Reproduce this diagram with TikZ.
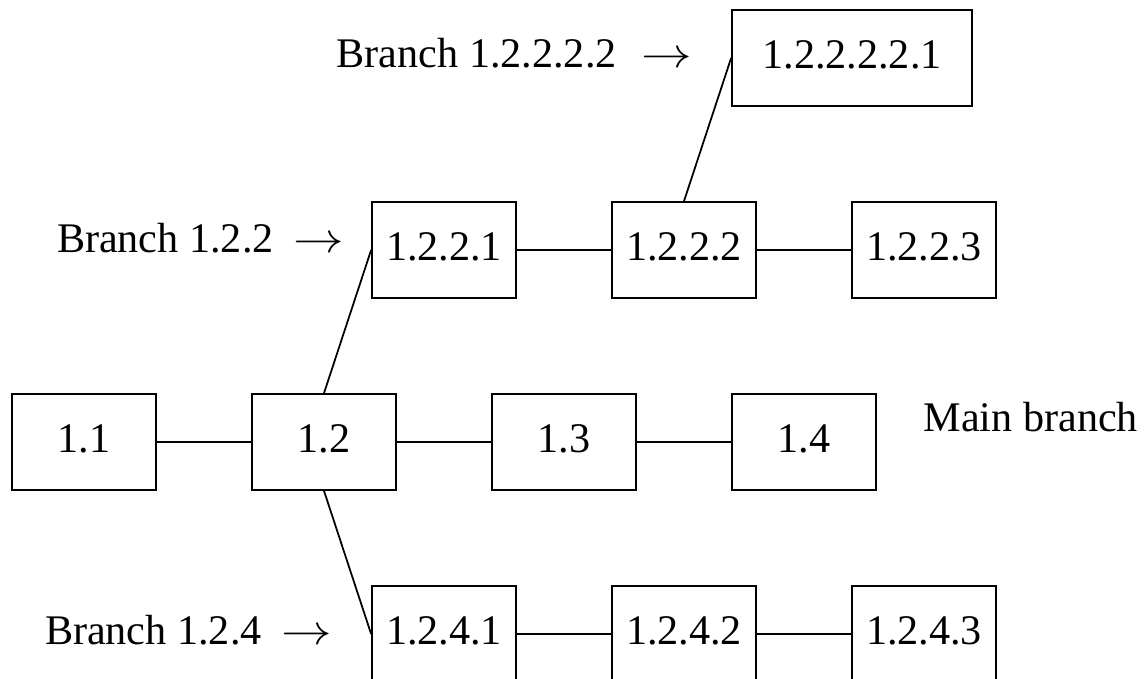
\documentclass[tikz,border=0pt]{standalone}
\usepackage{fontspec}
\setmainfont{Liberation Serif}
\usetikzlibrary{positioning}

\tikzset{
    brbox/.style={draw, line width=0.5pt, minimum width=1.44cm, minimum height=0.96cm, inner sep=0pt, text depth=0.06cm},
    brline/.style={line width=0.5pt},
    brlabel/.style={inner sep=0pt}
}
\newcommand{\brarrow}{\hspace{0.2cm}\scalebox{1.2}[1]{$\rightarrow$}}

\begin{document}
\begin{tikzpicture}[font=\fontsize{12}{14}\selectfont]
            \useasboundingbox (0,0) rectangle (11.47,6.79);

            % Main branch
            \foreach \x/\name/\txt in {0.84/n11/1.1, 3.24/n12/1.2, 5.64/n13/1.3, 8.04/n14/1.4} {
                \node[brbox] (\name) at (\x, 2.37) {\txt};
            }
            \node[brlabel, anchor=base west] (lmain) at (9.23, 2.47) {Main branch};

            % Branch 1.2.2
            \foreach \x/\name/\txt in {4.44/n1221/1.2.2.1, 6.84/n1222/1.2.2.2, 9.24/n1223/1.2.2.3} {
                \node[brbox] (\name) at (\x, 4.29) {\txt};
            }
            \node[brlabel, anchor=base east] (lb122) at (3.45, 4.26) {Branch 1.2.2\brarrow};

            % Branch 1.2.2.2.2
            \node[brbox, minimum width=2.40cm] (n122221) at (8.52, 6.21) {1.2.2.2.2.1};
            \node[brlabel, anchor=base east] (lb12222) at (6.93, 6.11) {Branch 1.2.2.2.2\hspace{0.05cm}\brarrow};

            % Branch 1.2.4
            \foreach \x/\name/\txt in {4.44/n1241/1.2.4.1, 6.84/n1242/1.2.4.2, 9.24/n1243/1.2.4.3} {
                \node[brbox] (\name) at (\x, 0.45) {\txt};
            }
            \node[brlabel, anchor=base east] (lb124) at (3.33, 0.34) {Branch 1.2.4\brarrow};

            % Connections
            \foreach \a/\b in {n11/n12, n12/n13, n13/n14, n1221/n1222, n1222/n1223, n1241/n1242, n1242/n1243} {
                \draw[brline] (\a) -- (\b);
            }
            \draw[brline] (n12.north) -- (n1221.west);
            \draw[brline] (n12.south) -- (n1241.west);
            \draw[brline] (n1222.north) -- (n122221.west);

\end{tikzpicture}
\end{document}
